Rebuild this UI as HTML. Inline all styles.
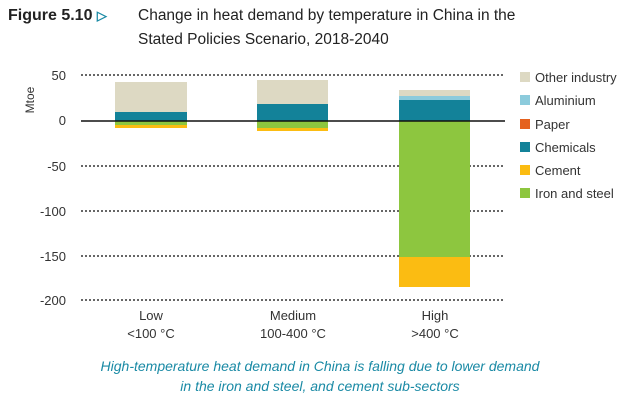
<!DOCTYPE html>
<html><head><style>
body{margin:0;width:640px;height:407px;background:#fff;font-family:"Liberation Sans",sans-serif;overflow:hidden;position:relative}
.t{position:absolute;font-size:15.5px;color:#222}
</style></head><body>
<div class="t" style="left:8px;top:7px;font-weight:bold;font-size:16px">Figure 5.10 <span style="color:#1a8aa5;font-size:13px">&#9655;</span></div>
<div class="t" style="left:138px;top:7px">Change in heat demand by temperature in China in the</div>
<div class="t" style="left:138px;top:31px">Stated Policies Scenario, 2018-2040</div>
<svg width="640" height="407" style="position:absolute;left:0;top:0" font-family="Liberation Sans, sans-serif">
<g stroke="#666" stroke-width="2" stroke-dasharray="2,2">
<line x1="81" x2="505" y1="75" y2="75"/><line x1="81" x2="505" y1="166" y2="166"/>
<line x1="81" x2="505" y1="211" y2="211"/><line x1="81" x2="505" y1="256" y2="256"/>
<line x1="81" x2="505" y1="300" y2="300"/></g>
<g font-size="13" fill="#333" text-anchor="end">
<text x="66" y="80">50</text><text x="66" y="125">0</text><text x="66" y="171">-50</text>
<text x="66" y="216">-100</text><text x="66" y="261">-150</text><text x="66" y="305">-200</text></g>
<text transform="translate(34,100) rotate(-90)" font-size="12" fill="#333" text-anchor="middle">Mtoe</text>
<rect x="115" y="82" width="72" height="30" fill="#ddd9c3"/><rect x="115" y="112" width="72" height="9" fill="#138299"/>
<rect x="115" y="121" width="72" height="4" fill="#8dc63f"/><rect x="115" y="125" width="72" height="3" fill="#fbbc12"/>
<rect x="257" y="80" width="71" height="24" fill="#ddd9c3"/><rect x="257" y="104" width="71" height="17" fill="#138299"/>
<rect x="257" y="121" width="71" height="7" fill="#8dc63f"/><rect x="257" y="128" width="71" height="3" fill="#fbbc12"/>
<rect x="399" y="90" width="71" height="6" fill="#ddd9c3"/><rect x="399" y="96" width="71" height="4" fill="#8ccbdc"/>
<rect x="399" y="100" width="71" height="21" fill="#138299"/>
<rect x="399" y="121" width="71" height="136" fill="#8dc63f"/><rect x="399" y="257" width="71" height="30" fill="#fbbc12"/>
<line x1="81" x2="505" y1="121" y2="121" stroke="#111" stroke-width="1.5"/>
<g font-size="13" fill="#333" text-anchor="middle">
<text x="151" y="320">Low</text><text x="151" y="338">&lt;100 °C</text>
<text x="293" y="320">Medium</text><text x="293" y="338">100-400 °C</text>
<text x="435" y="320">High</text><text x="435" y="338">&gt;400 °C</text></g>
<g font-size="13" fill="#333">
<rect x="520" y="72" width="10" height="10" fill="#ddd9c3"/><text x="535" y="82">Other industry</text>
<rect x="520" y="95" width="10" height="10" fill="#8ccbdc"/><text x="535" y="105">Aluminium</text>
<rect x="520" y="119" width="10" height="10" fill="#e5611e"/><text x="535" y="129">Paper</text>
<rect x="520" y="142" width="10" height="10" fill="#138299"/><text x="535" y="152">Chemicals</text>
<rect x="520" y="165" width="10" height="10" fill="#fbbc12"/><text x="535" y="175">Cement</text>
<rect x="520" y="188" width="10" height="10" fill="#8dc63f"/><text x="535" y="198">Iron and steel</text></g>
<g font-size="14" fill="#1a8aa5" font-style="italic" text-anchor="middle">
<text x="320" y="371">High-temperature heat demand in China is falling due to lower demand</text>
<text x="320" y="391">in the iron and steel, and cement sub-sectors</text></g>
</svg>
</body></html>
